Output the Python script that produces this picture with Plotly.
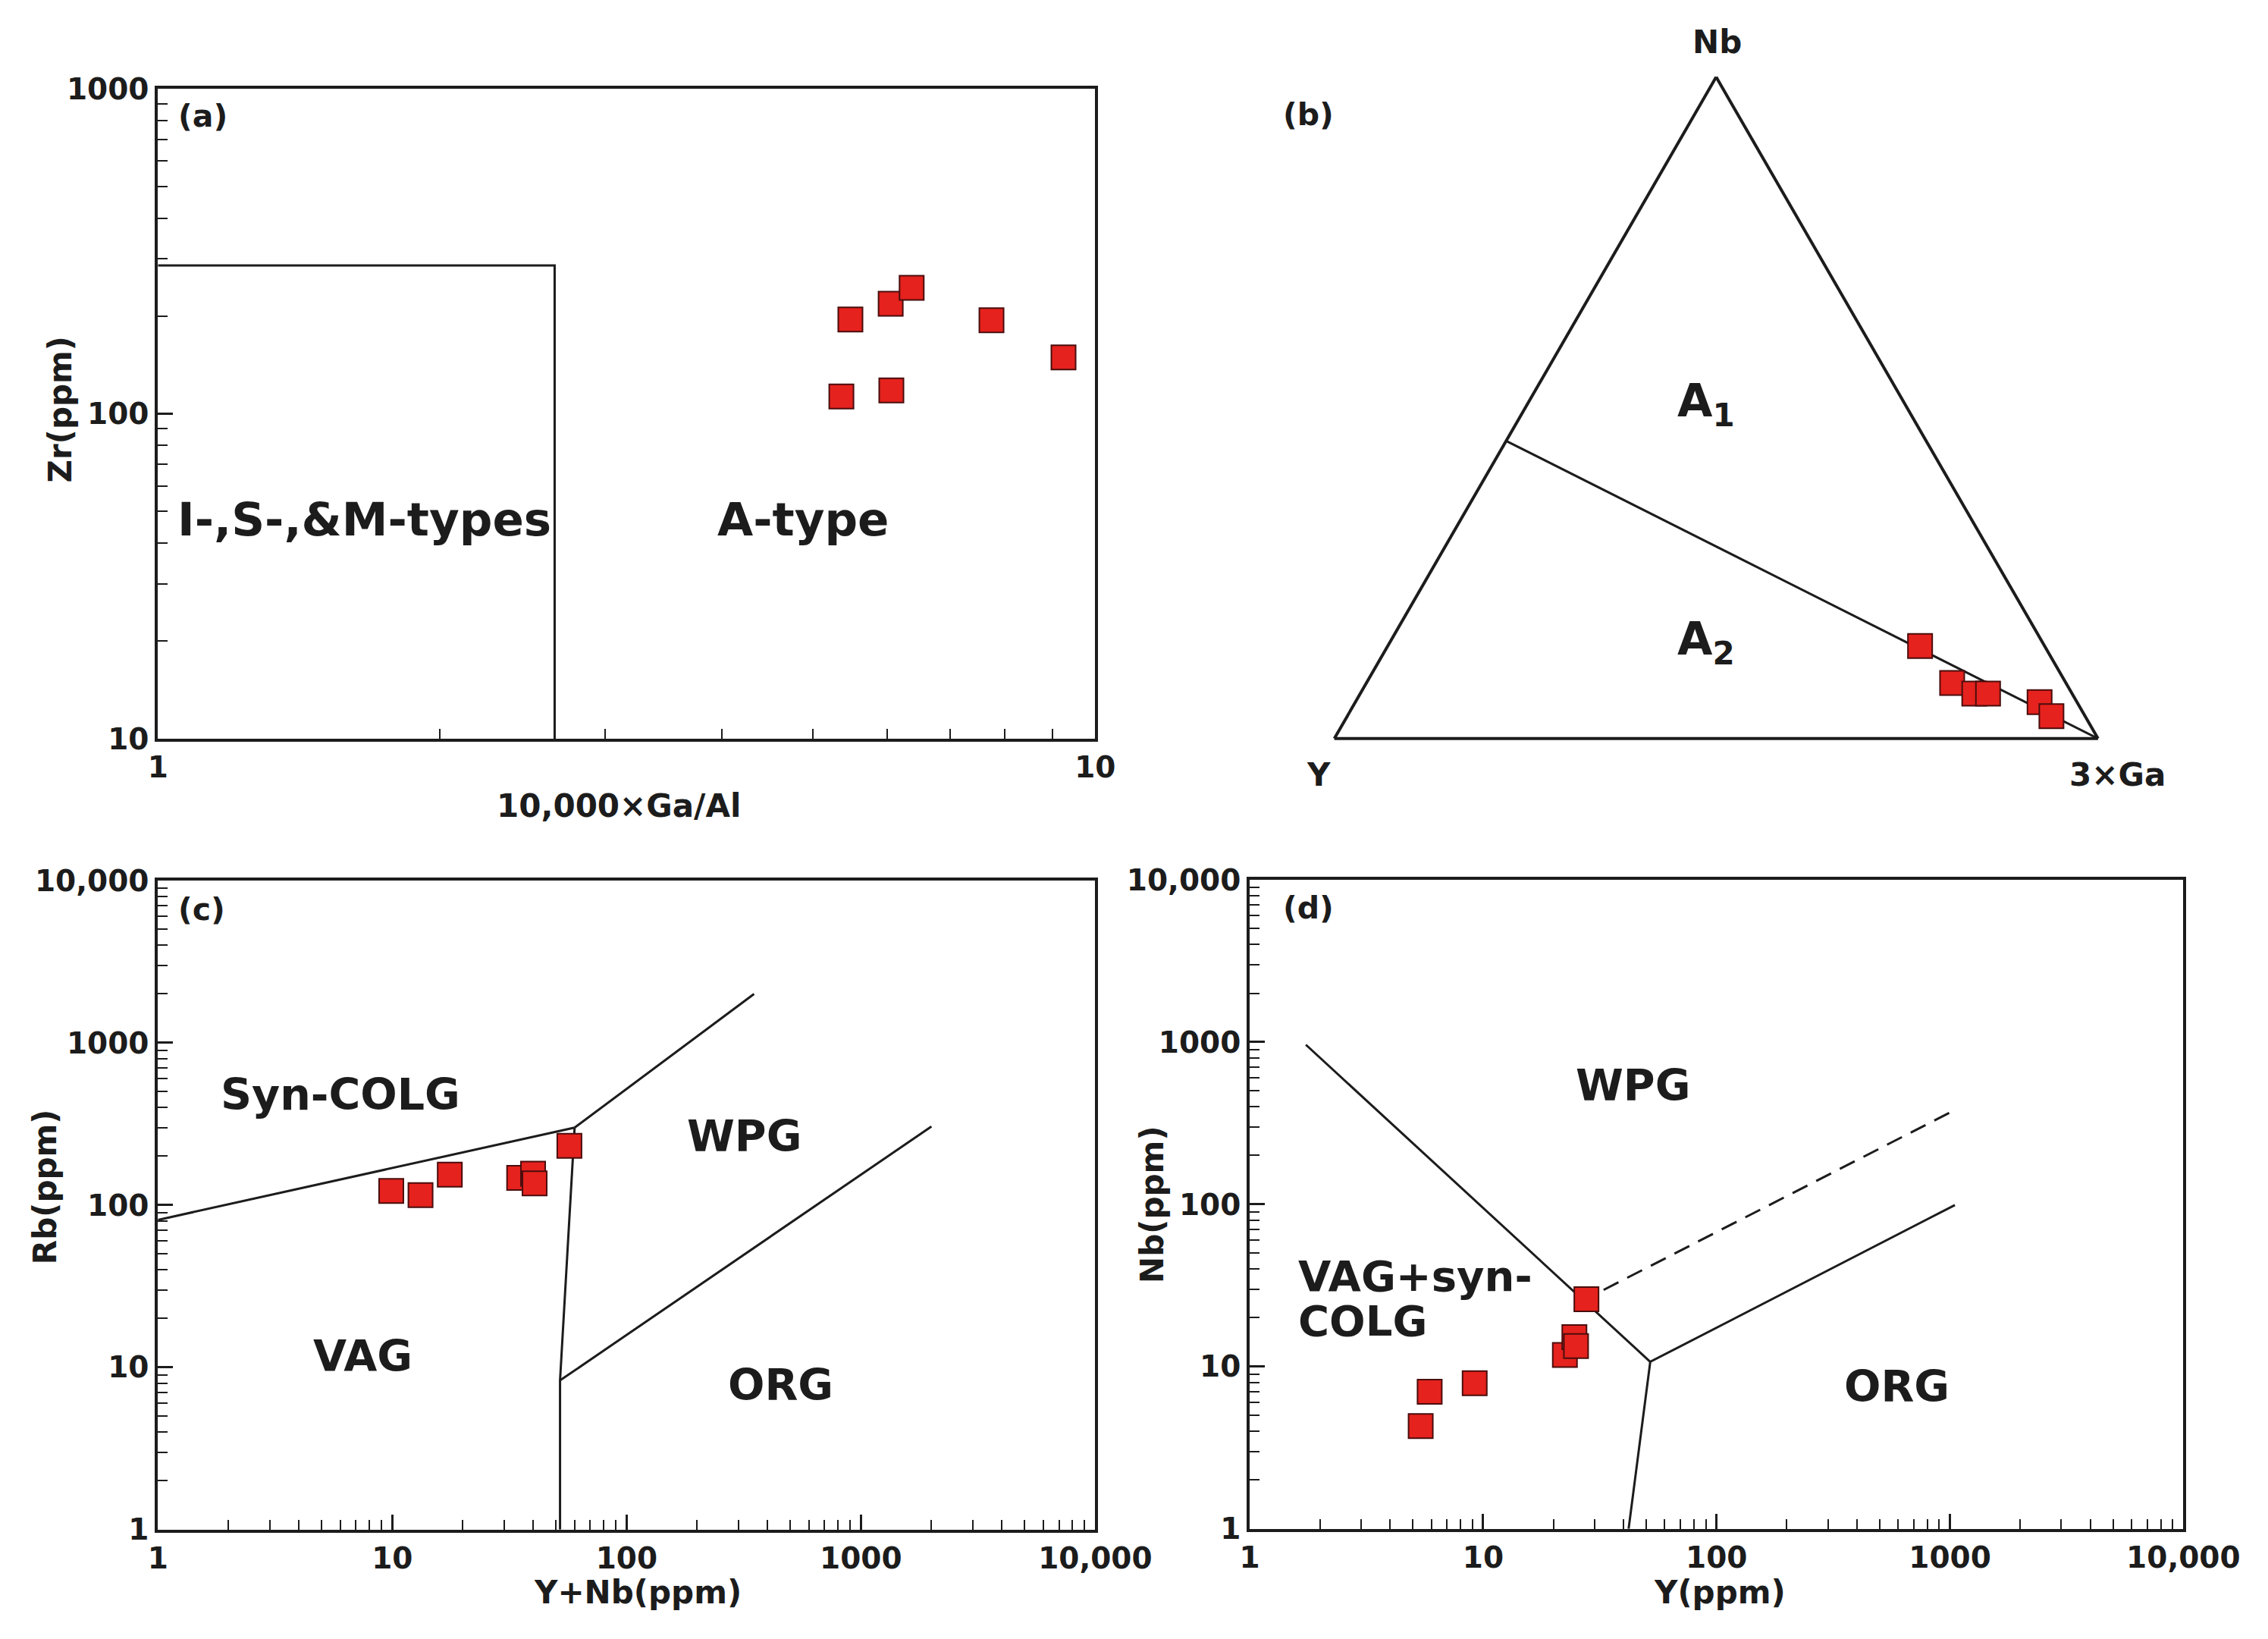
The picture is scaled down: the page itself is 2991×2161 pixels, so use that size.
import numpy as np
import plotly.graph_objects as go

# ---- data ----
# (a) Zr vs 10000*Ga/Al
a_gaal = [5.36, 5.48, 6.05, 6.06, 6.37, 7.75, 9.25]
a_zr = [113, 195, 218, 118, 244, 194, 149]
a_box_x = [1, 2.65, 2.65]
a_box_y = [286, 286, 10]

# (b) Nb - Y - 3Ga ternary (fractions)
b_nb = [0.140, 0.084, 0.068, 0.068, 0.055, 0.034]
b_y = [0.163, 0.149, 0.128, 0.110, 0.049, 0.044]
b_ga = [0.697, 0.767, 0.804, 0.822, 0.896, 0.922]
b_div_nb = [0.45, 0.0]
b_div_y = [0.55, 0.0]
b_div_ga = [0.0, 1.0]

# (c) Rb vs Y+Nb
c_ynb = [9.9, 13.2, 17.6, 34.8, 39.9, 40.5, 57]
c_rb = [122, 115, 154, 147, 156, 136, 232]
c_line1_x = [1, 60]
c_line1_y = [81, 300]
c_line2_x = [60, 350]
c_line2_y = [300, 2000]
c_line3_x = [52, 52, 60]
c_line3_y = [1, 8.3, 300]
c_line4_x = [52, 2000]
c_line4_y = [8.3, 305]

# (d) Nb vs Y
d_y = [5.4, 5.9, 9.2, 22.4, 24.6, 25.0, 27.7]
d_nb = [4.3, 7.0, 7.9, 11.8, 15.2, 13.4, 26]
d_line1_x = [1.74, 52]
d_line1_y = [962, 10.7]
d_line2_x = [42, 52, 1050]
d_line2_y = [1, 10.7, 99]
d_dash_x = [26, 1030]
d_dash_y = [25, 376]

log_tickvals = [1, 10, 100, 1000, 10000]
log_ticktext = ['1', '10', '100', '1000', '10,000']

W, H = 2991, 2161
INK = '#1c1c1c'
FONT = 'DejaVu Sans'
MARKER = dict(symbol='square', size=32, color='#E5221D', line=dict(color='#4a0d0d', width=2))
FRAME_W = 4
LINE_W = 3


def px(x, y):
    # pixel position on the page -> paper coords
    return x / W, 1 - y / H


def log_axis(domain, lo, hi, tickvals, ticktext, anchor):
    return dict(
        type='log', domain=domain, range=[np.log10(lo), np.log10(hi)], anchor=anchor,
        tickmode='array', tickvals=tickvals, ticktext=ticktext,
        ticks='inside', ticklen=20, tickwidth=3, tickcolor=INK,
        showline=True, linewidth=FRAME_W, linecolor=INK, mirror=True,
        showgrid=False, zeroline=False,
        minor=dict(ticks='inside', ticklen=13, tickwidth=2, tickcolor=INK, dtick='D1', showgrid=False),
        tickfont=dict(family=FONT, size=39, color=INK, weight='bold'),
        fixedrange=True,
    )


def label(text, x, y, size, angle=0, xanchor='center', align='center'):
    xp, yp = px(x, y)
    return dict(text=text, x=xp, y=yp, xref='paper', yref='paper', showarrow=False,
                xanchor=xanchor, yanchor='middle', align=align, textangle=angle,
                font=dict(family=FONT, size=size, color=INK, weight='bold'))


fig = go.Figure()

# (a)
fig.add_trace(go.Scatter(x=a_box_x, y=a_box_y, mode='lines', line=dict(color=INK, width=LINE_W),
                         xaxis='x', yaxis='y', showlegend=False))
fig.add_trace(go.Scatter(x=a_gaal, y=a_zr, mode='markers', marker=MARKER,
                         xaxis='x', yaxis='y', showlegend=False))

# (b)
fig.add_trace(go.Scatterternary(a=b_div_nb, b=b_div_y, c=b_div_ga, mode='lines',
                                line=dict(color=INK, width=LINE_W), showlegend=False))
fig.add_trace(go.Scatterternary(a=b_nb, b=b_y, c=b_ga, mode='markers', marker=MARKER,
                                showlegend=False))

# (c)
for lx, ly in [(c_line1_x, c_line1_y), (c_line2_x, c_line2_y), (c_line3_x, c_line3_y), (c_line4_x, c_line4_y)]:
    fig.add_trace(go.Scatter(x=lx, y=ly, mode='lines', line=dict(color=INK, width=LINE_W),
                             xaxis='x2', yaxis='y2', showlegend=False))
fig.add_trace(go.Scatter(x=c_ynb, y=c_rb, mode='markers', marker=MARKER,
                         xaxis='x2', yaxis='y2', showlegend=False))

# (d)
for lx, ly in [(d_line1_x, d_line1_y), (d_line2_x, d_line2_y)]:
    fig.add_trace(go.Scatter(x=lx, y=ly, mode='lines', line=dict(color=INK, width=LINE_W),
                             xaxis='x3', yaxis='y3', showlegend=False))
fig.add_trace(go.Scatter(x=d_dash_x, y=d_dash_y, mode='lines',
                         line=dict(color=INK, width=LINE_W, dash='22px,13px'),
                         xaxis='x3', yaxis='y3', showlegend=False))
fig.add_trace(go.Scatter(x=d_y, y=d_nb, mode='markers', marker=MARKER,
                         xaxis='x3', yaxis='y3', showlegend=False))

dom_a_x = [192 / W, 1466 / W]
dom_a_y = [1 - 964 / H, 1 - 89 / H]
dom_c_x = [192 / W, 1466 / W]
dom_c_y = [1 - 2029 / H, 1 - 1155 / H]
dom_d_x = [1676 / W, 2945 / W]
dom_d_y = [1 - 2028 / H, 1 - 1154 / H]

annotations = [
    label('(a)', 253, 126, 41),
    label('(b)', 1756, 124, 41),
    label('(c)', 251, 1194, 41),
    label('(d)', 1756, 1192, 41),
    label('I-,S-,&M-types', 473, 668, 61),
    label('A-type', 1069, 668, 61),
    label('Zr(ppm)', 59, 521, 42, angle=-90),
    label('10,000×Ga/Al', 818, 1054, 42),
    label('Nb', 2311, 26, 42),
    label('Y', 1770, 1013, 42),
    label('3×Ga', 2855, 1013, 42),
    label('A<sub>1</sub>', 2296, 513, 60),
    label('A<sub>2</sub>', 2296, 834, 60),
    label('Syn-COLG', 440, 1443, 57),
    label('WPG', 989, 1499, 57),
    label('VAG', 471, 1795, 57),
    label('ORG', 1038, 1834, 57),
    label('Rb(ppm)', 39, 1567, 42, angle=-90),
    label('Y+Nb(ppm)', 844, 2114, 42),
    label('WPG', 2197, 1431, 57),
    label('VAG+syn-', 1740, 1688, 56, xanchor='left'),
    label('COLG', 1740, 1748, 56, xanchor='left'),
    label('ORG', 2556, 1836, 57),
    label('Nb(ppm)', 1544, 1591, 42, angle=-90),
    label('Y(ppm)', 2315, 2114, 42),
]

tern_axis = dict(showticklabels=False, ticks='', showgrid=False, linecolor=INK, linewidth=FRAME_W,
                 title=dict(text=''))

fig.update_layout(
    width=W, height=H,
    margin=dict(l=0, r=0, t=0, b=0),
    paper_bgcolor='white', plot_bgcolor='white',
    xaxis=log_axis(dom_a_x, 1, 10, [1, 10], ['1', '10'], 'y'),
    yaxis=log_axis(dom_a_y, 10, 1000, [10, 100, 1000], ['10', '100', '1000'], 'x'),
    xaxis2=log_axis(dom_c_x, 1, 10000, log_tickvals, log_ticktext, 'y2'),
    yaxis2=log_axis(dom_c_y, 1, 10000, log_tickvals, log_ticktext, 'x2'),
    xaxis3=log_axis(dom_d_x, 1, 10000, log_tickvals, log_ticktext, 'y3'),
    yaxis3=log_axis(dom_d_y, 1, 10000, log_tickvals, log_ticktext, 'x3'),
    ternary=dict(
        domain=dict(x=[1791 / W, 2829 / W], y=[1 - 968 / H, 1 - 69 / H]),
        sum=1, bgcolor='white',
        aaxis=tern_axis, baxis=tern_axis, caxis=tern_axis,
    ),
    annotations=annotations,
    dragmode=False,
)

fig.write_html("out.html")
